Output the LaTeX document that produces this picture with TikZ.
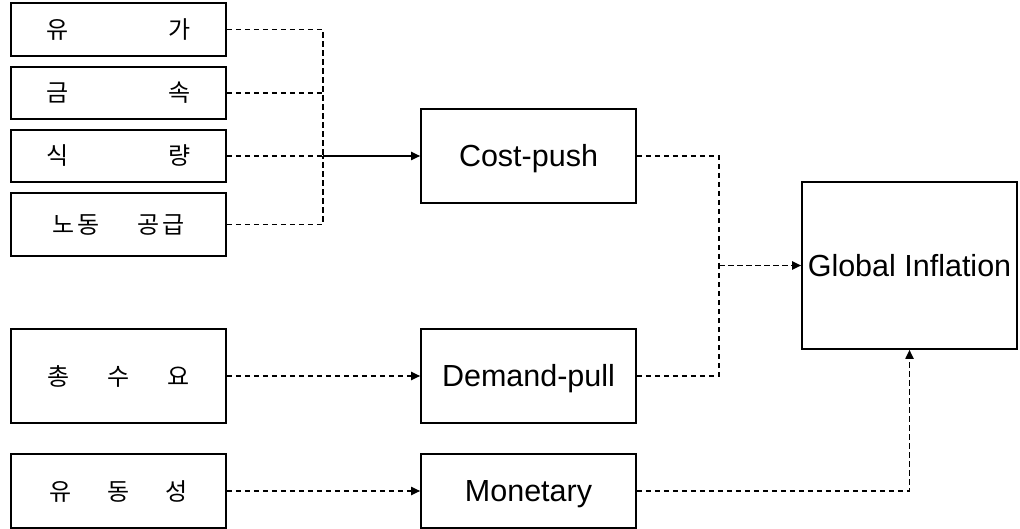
\documentclass[tikz,border=0pt]{standalone}
\usepackage{fontspec}
\setmainfont{Liberation Sans}
\newfontfamily\kr{Noto Sans CJK KR}
\usetikzlibrary{arrows.meta}
\begin{document}
\begin{tikzpicture}[x=1pt,y=-1pt,
  box/.style={draw, line width=1.6pt, inner sep=0pt, minimum width=215pt},
  krtext/.style={font=\kr\fontsize{24}{28}\selectfont, text height=18pt, text depth=0pt},
  entext/.style={font=\fontsize{30.5}{36}\selectfont, text height=21.8pt, text depth=0pt},
  dsh/.style={line width=1.8pt, dash pattern=on 5.5pt off 3.5pt},
  arr/.style={-{Triangle[length=9pt,width=8pt]}},
]
\useasboundingbox (0,0) rectangle (1020,529);
% left boxes
\node[box, krtext, minimum height=53pt] (b1) at (118.5,29.5) {\makebox[145pt]{유\hfill 가}};
\node[box, krtext, minimum height=52pt] (b2) at (118.5,93) {\makebox[145pt]{금\hfill 속}};
\node[box, krtext, minimum height=52pt] (b3) at (118.5,156) {\makebox[145pt]{식\hfill 량}};
\node[box, krtext, minimum height=63pt] (b4) at (118.5,224.5) {\makebox[133pt]{노\hspace{3pt}동\hfill 공\hspace{3pt}급}};
\node[box, krtext, minimum height=94pt] (b5) at (118.5,376) {\makebox[143pt]{총\hfill 수\hfill 요}};
\node[box, krtext, minimum height=74pt] (b6) at (118.5,491) {\makebox[138pt]{유\hfill 동\hfill 성}};
% middle boxes
\node[box, entext, minimum height=94pt] (cp) at (528.5,156) {Cost-push};
\node[box, entext, minimum height=94pt] (dp) at (528.5,376) {Demand-pull};
\node[box, entext, minimum height=74pt] (mo) at (528.5,491) {Monetary};
% right box
\node[box, entext, minimum height=167pt] (gi) at (909.5,265.5) {Global Inflation};
% junctions
\coordinate (j) at (323,156);
\coordinate (k) at (719,265.5);
% connectors
\draw[dsh] (b1.east) -| (j);
\draw[dsh] (b2.east) -| (j);
\draw[dsh] (b3.east) -- (j);
\draw[dsh] (b4.east) -| (j);
\draw[line width=1.8pt, arr] (j) -- (cp.west);
\draw[dsh] (cp.east) -| (k);
\draw[dsh] (dp.east) -| (k);
\draw[dsh, arr] (k) -- (gi.west);
\draw[dsh, arr] (b5.east) -- (dp.west);
\draw[dsh, arr] (b6.east) -- (mo.west);
\draw[dsh, arr] (mo.east) -| (gi.south);
\end{tikzpicture}
\end{document}
